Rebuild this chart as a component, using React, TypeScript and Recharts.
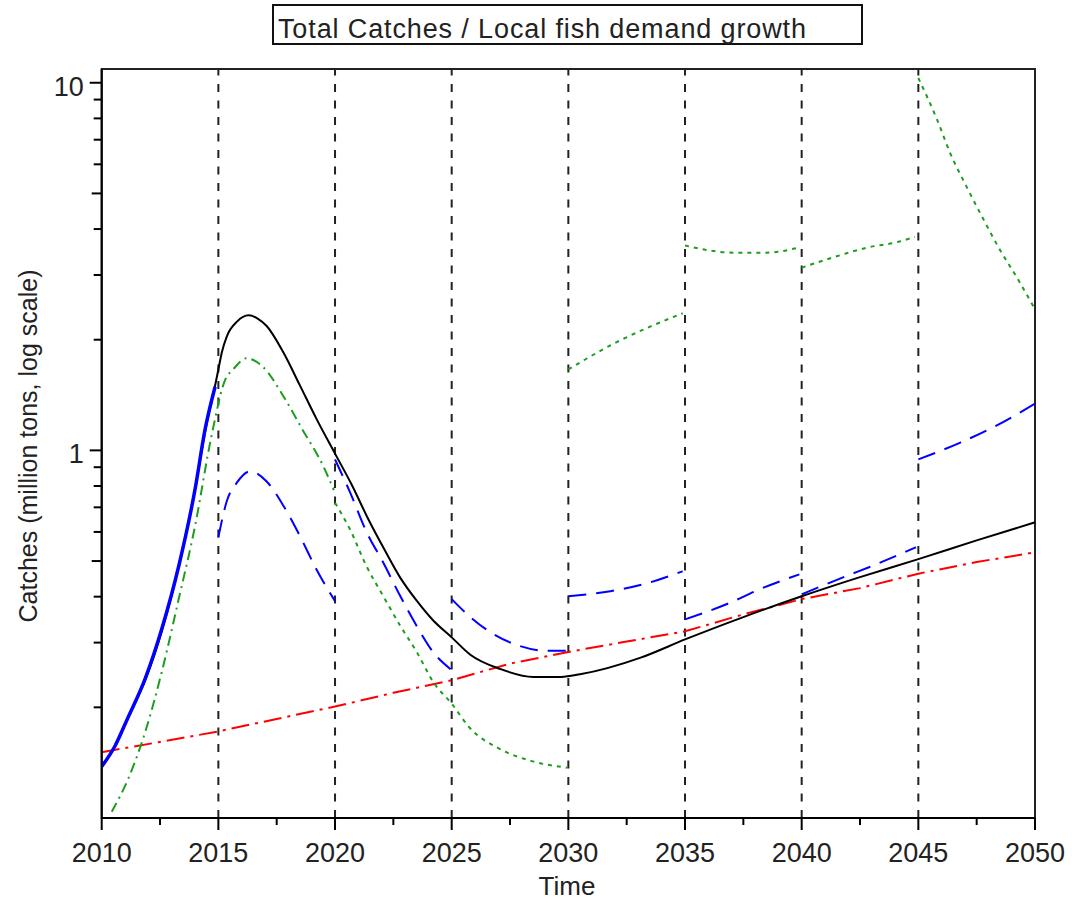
import React from 'react'
import { LineChart, Line, XAxis, YAxis, ReferenceLine, ReferenceArea } from 'recharts'

type Pt = [number, number]

const FONT = '"Liberation Sans", Arial, sans-serif'

// axis ticks
const xTicks = [2010, 2012.5, 2015, 2017.5, 2020, 2022.5, 2025, 2027.5, 2030, 2032.5, 2035, 2037.5, 2040, 2042.5, 2045, 2047.5, 2050]
const xLabels = [2010, 2015, 2020, 2025, 2030, 2035, 2040, 2045, 2050]
const yTicks = [0.2, 0.3, 0.4, 0.5, 0.6, 0.7, 0.8, 0.9, 1, 2, 3, 4, 5, 6, 7, 8, 9, 10]
const yLabels = [1, 10]
const periodBreaks = [2015, 2020, 2025, 2030, 2035, 2040, 2045]

// total catches (black)
const totalCatches: Pt[] = [
  [2010, 0.138], [2010.6, 0.158], [2011.1, 0.186], [2011.9, 0.24], [2012.6, 0.326], [2013.3, 0.484],
  [2014.0, 0.783], [2014.45, 1.14], [2014.85, 1.49], [2015.0, 1.66], [2015.15, 1.85], [2015.36, 2.04],
  [2015.8, 2.24], [2016.3, 2.33], [2016.7, 2.28], [2017.07, 2.18], [2017.8, 1.84], [2018.5, 1.5],
  [2019.2, 1.22], [2020, 0.98], [2020.7, 0.81], [2021.4, 0.655], [2022.1, 0.54], [2022.8, 0.45],
  [2023.5, 0.39], [2024.2, 0.345], [2025, 0.31], [2025.8, 0.278], [2027.1, 0.254], [2028.5, 0.242],
  [2029.7, 0.242], [2030.5, 0.246], [2033.1, 0.273], [2035, 0.306], [2037.5, 0.352], [2040, 0.401],
  [2042.5, 0.452], [2045, 0.506], [2047.5, 0.569], [2050, 0.637],
]

// blue: first period solid, then dashed per period
const blueRise: Pt[] = [
  [2010, 0.138], [2010.57, 0.157], [2011.1, 0.186], [2011.86, 0.239], [2012.57, 0.326],
  [2013.3, 0.484], [2014.0, 0.783], [2014.43, 1.14], [2014.86, 1.49],
]
const blue2015: Pt[] = [
  [2015, 0.58], [2015.36, 0.727], [2015.8, 0.818], [2016.36, 0.877], [2017.06, 0.824],
  [2017.8, 0.705], [2018.5, 0.584], [2019.2, 0.475], [2020, 0.389],
]
const blue2020: Pt[] = [
  [2020, 0.945], [2020.64, 0.77], [2021.35, 0.6], [2022.06, 0.496], [2022.8, 0.401],
  [2023.5, 0.333], [2024.2, 0.283], [2024.95, 0.254],
]
const blue2025: Pt[] = [
  [2025, 0.394], [2025.8, 0.352], [2026.6, 0.322], [2027.9, 0.294], [2029.07, 0.285], [2030, 0.285],
]
const blue2030: Pt[] = [[2030, 0.401], [2031.8, 0.414], [2033.2, 0.432], [2034.9, 0.469]]
const blue2035: Pt[] = [[2035, 0.347], [2036.8, 0.382], [2038.2, 0.419], [2039.9, 0.46]]
const blue2040: Pt[] = [[2040, 0.406], [2041.8, 0.452], [2043.2, 0.49], [2044.9, 0.545]]
const blue2045: Pt[] = [[2045, 0.945], [2046.8, 1.05], [2048.2, 1.155], [2050, 1.34]]

// green
const greenDashDot: Pt[] = [
  [2010.43, 0.104], [2011.14, 0.128], [2011.86, 0.171], [2012.57, 0.249], [2013.3, 0.394],
  [2014.0, 0.622], [2014.7, 1.09], [2015.3, 1.56], [2015.63, 1.66], [2016.2, 1.78], [2016.9, 1.69],
  [2017.8, 1.4], [2018.6, 1.14], [2019.5, 0.905], [2019.95, 0.78],
]
const green2020: Pt[] = [
  [2020, 0.72], [2020.64, 0.61], [2021.35, 0.484], [2022.07, 0.401], [2022.8, 0.333], [2023.5, 0.283],
  [2024.2, 0.235], [2025.07, 0.202], [2025.7, 0.178], [2027.07, 0.154], [2028.4, 0.143], [2029.95, 0.137],
]
const green2030: Pt[] = [[2030, 1.66], [2032.07, 1.97], [2033.5, 2.17], [2034.9, 2.36]]
const green2035: Pt[] = [[2035, 3.61], [2035.9, 3.51], [2037.06, 3.45], [2038.5, 3.45], [2039.85, 3.56]]
const green2040: Pt[] = [[2040, 3.14], [2041.35, 3.35], [2042.8, 3.56], [2044.2, 3.7], [2044.85, 3.81]]
const green2045: Pt[] = [
  [2045, 10.3], [2045.8, 7.95], [2046.36, 6.45], [2047.07, 5.21], [2047.8, 4.24],
  [2048.5, 3.51], [2049.2, 2.97], [2050, 2.42],
]

// local fish demand (red)
const localDemand: Pt[] = [
  [2010, 0.151], [2012.5, 0.161], [2015, 0.172], [2017.5, 0.186], [2020, 0.201], [2022.5, 0.219],
  [2025, 0.237], [2027.5, 0.263], [2030, 0.283], [2032.5, 0.302], [2035, 0.322], [2037.5, 0.358],
  [2040, 0.394], [2042.5, 0.422], [2045, 0.462], [2047.5, 0.497], [2050, 0.528],
]

const blueDashed = [blue2015, blue2020, blue2025, blue2030, blue2035, blue2040, blue2045]
const greenDotted = [green2020, green2030, green2035, green2040, green2045]

const rows = (pts: Pt[]) => pts.map(([t, v]) => ({ t, v }))

const XTick = ({ x, y, payload }: any) => {
  const major = xLabels.includes(payload.value)
  return (
    <g>
      <line x1={x} x2={x} y1={y} y2={y + (major ? 12 : 7)} stroke="#000" strokeWidth={2} />
      {major && (
        <text x={x} y={y + 44} textAnchor="middle" fontSize={27} fill="#222" fontFamily={FONT}>
          {payload.value}
        </text>
      )}
    </g>
  )
}

const YTick = ({ x, y, payload }: any) => {
  const v = payload.value
  const major = yLabels.includes(v)
  const len = major ? 12 : (v === 5 || v === 0.5) ? 10 : 8
  return (
    <g>
      <line x1={x} x2={x - len} y1={y} y2={y} stroke="#000" strokeWidth={2} />
      {major && (
        <text x={x - 18} y={y + 13} textAnchor="end" fontSize={27} fill="#222" fontFamily={FONT}>
          {v}
        </text>
      )}
    </g>
  )
}

const YLabel = () => (
  <text x={37} y={446} transform="rotate(-90, 37, 446)" textAnchor="middle" fontSize={25} fill="#222" fontFamily={FONT}>
    Catches (million tons, log scale)
  </text>
)

const XLabel = () => (
  <text x={567} y={895} textAnchor="middle" fontSize={26} fill="#222" fontFamily={FONT}>
    Time
  </text>
)

export default function App () {
  return (
    <div style={{ position: 'absolute', left: 0, top: 0, width: 1072, height: 905, background: '#fff' }}>
      <LineChart width={1072} height={905} margin={{ top: 69, right: 37, bottom: 37, left: 0 }}>
        <XAxis
          type="number"
          dataKey="t"
          domain={[2010, 2050]}
          allowDataOverflow
          ticks={xTicks}
          interval={0}
          tickSize={0}
          tickMargin={0}
          tickLine={false}
          tick={<XTick />}
          height={50}
          axisLine={{ stroke: '#000', strokeWidth: 2 }}
          label={<XLabel />}
        />
        <YAxis
          type="number"
          dataKey="v"
          scale="log"
          domain={[0.1, 10.9]}
          allowDataOverflow
          ticks={yTicks}
          interval={0}
          tickSize={0}
          tickMargin={0}
          tickLine={false}
          tick={<YTick />}
          width={101.7}
          axisLine={{ stroke: '#000', strokeWidth: 2 }}
          label={<YLabel />}
        />
        <ReferenceArea x1={2010} x2={2050} y1={0.1} y2={10.9} fill="none" stroke="#222" strokeWidth={2} />
        {periodBreaks.map(yr => (
          <ReferenceLine key={yr} x={yr} stroke="#222" strokeWidth={2} strokeDasharray="8 8.5" />
        ))}
        <Line data={rows(localDemand)} dataKey="v" type="linear" stroke="#ff0000" strokeWidth={2}
          strokeDasharray="18 6 3 6" dot={false} isAnimationActive={false} />
        <Line data={rows(greenDashDot)} dataKey="v" type="monotone" stroke="#1c9e1c" strokeWidth={2}
          strokeDasharray="10 5 2 5" dot={false} isAnimationActive={false} />
        {greenDotted.map((seg, i) => (
          <Line key={'g' + i} data={rows(seg)} dataKey="v" type="monotone" stroke="#1c9e1c" strokeWidth={2}
            strokeDasharray="4 5" dot={false} isAnimationActive={false} />
        ))}
        {blueDashed.map((seg, i) => (
          <Line key={'b' + i} data={rows(seg)} dataKey="v" type="monotone" stroke="#0000ff" strokeWidth={2}
            strokeDasharray="18 10" dot={false} isAnimationActive={false} />
        ))}
        <Line data={rows(totalCatches)} dataKey="v" type="monotone" stroke="#000" strokeWidth={2}
          dot={false} isAnimationActive={false} />
        <Line data={rows(blueRise)} dataKey="v" type="monotone" stroke="#0000ff" strokeWidth={3.5}
          dot={false} isAnimationActive={false} />
      </LineChart>
      <svg width={1072} height={905} style={{ position: 'absolute', left: 0, top: 0, pointerEvents: 'none' }}>
        <rect x={273} y={5} width={589} height={39} fill="none" stroke="#111" strokeWidth={2} />
        <text x={278} y={38} fontSize={27} fill="#222" fontFamily={FONT} textLength={528} lengthAdjust="spacing">
          Total Catches / Local fish demand growth
        </text>
      </svg>
    </div>
  )
}
